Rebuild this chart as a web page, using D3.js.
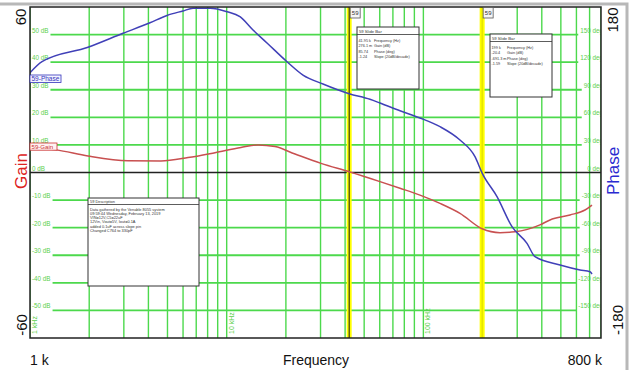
<!DOCTYPE html>
<html>
<head>
<meta charset="utf-8">
<script src="https://cdn.jsdelivr.net/npm/d3@7/dist/d3.min.js"></script>
<style>
  html, body { margin: 0; padding: 0; background: #fff; }
  svg { display: block; font-family: "Liberation Sans", Arial, sans-serif; }
</style>
</head>
<body>
<svg id="chart" width="634" height="370"></svg>
<script>
// Loop gain / phase measurement, trace 59
const gainFreq = [1000, 1356, 1972, 3150, 4634, 6359, 8721, 11820, 14430, 17610, 22250, 30170,
  41950, 60180, 76050, 96100, 121500, 153500, 199000, 245200, 292300, 391600, 440400, 556600, 663300, 720000];
const gainDb = [9.2, 8.2, 6.0, 4.3, 4.2, 5.4, 7.2, 9.1, 10.0, 9.4, 6.7, 3.3,
  0.2761, -3.3, -5.7, -8.2, -11.2, -14.8, -20.4, -21.8, -21.5, -19.0, -17.2, -15.4, -13.6, -11.8];

const phaseFreq = [1000, 1151, 1972, 2971, 4075, 4972, 5997, 6742, 8227, 10040, 11680, 13610, 16030,
  20260, 24430, 30870, 41950, 53500, 60180, 76050, 96100, 121500, 153500, 183000, 199000, 236800,
  282200, 336400, 369400, 495100, 625800, 703500, 720000];
const phaseDeg = [108.5, 120.5, 136.2, 151.4, 162.9, 170.8, 175.7, 178.6, 178.6, 174.9, 169.5, 155.0, 140.9,
  120.5, 106.0, 96.3, 85.74, 79.6, 75.6, 67.2, 59.3, 49.8, 35.3, 17.2, -0.6913, -26.3,
  -58.9, -77.0, -91.6, -100.6, -106.0, -107.9, -110.4];

// Cursor read-outs (slide bars)
const cursorFreq = [41950, 199000];
const cursorFreqText = ["41.95 k", "199 k"];
const cursorGainText = ["276.1 m", "-20.4"];
const cursorPhaseText = ["85.74", "-691.3 m"];
const cursorSlopeText = ["-1.24", "-1.59"];
const readoutNames = ["Frequency (Hz)", "Gain (dB)", "Phase (deg)", "Slope (20dB/decade)"];

// Grid / tick labels
const dbLines = [50, 40, 30, 20, 10, 0, -10, -20, -30, -40, -50];
const degLabels = ["150 deg", "120 deg", "90 deg", "60 deg", "30 deg", "0 deg", "-30 deg", "-60 deg", "-90 deg", "-120 deg", "-150 deg"];
const decadeFreq = [1000, 10000, 100000];
const decadeText = ["1 kHz", "10 kHz", "100 kHz"];

const descriptionLines = [
  "Data gathered by the Venable 8055 system",
  "09:59:44 Wednesday, February 13, 2019",
  "VIN=12V,C5=22uF",
  "12Vin, Vout=5V, Iout=0.1A",
  "added 0.1uF across slope pin",
  "Changed C764 to 330pF"
];

const svg = d3.select("#chart");
const L = 30, R = 601, T = 7, B = 338;

const x = d3.scaleLog().domain([1000, 800000]).range([L, R]);
const yG = d3.scaleLinear().domain([-60, 60]).range([B, T]);
const yP = d3.scaleLinear().domain([-180, 180]).range([B, T]);

const GRID = "#4cd94c", GRIDTXT = "#5ccf4c";

// outer frame
svg.append("rect").attr("width", 634).attr("height", 370).attr("fill", "#fff");
svg.append("path").attr("d", `M0,4H627V370`).attr("fill", "none").attr("stroke", "#b8b8b8").attr("stroke-width", 3);

svg.append("clipPath").attr("id", "plotclip").append("rect")
  .attr("x", L).attr("y", T).attr("width", R - L).attr("height", B - T);
const plot = svg.append("g").attr("clip-path", "url(#plotclip)");

// vertical grid
plot.append("g").selectAll("line").data(x.ticks()).join("line")
  .attr("x1", d => x(d)).attr("x2", d => x(d)).attr("y1", T).attr("y2", B)
  .attr("stroke", GRID).attr("stroke-width", 1.4);

// horizontal grid with left dB and right deg labels
const hg = plot.append("g");
dbLines.forEach((db, i) => {
  const yy = yG(db);
  const lt = hg.append("text").attr("x", L + 2).attr("y", yy - 2)
    .attr("font-size", 6.3).attr("fill", GRIDTXT).text(db + " dB");
  const rt = hg.append("text").attr("x", R + 2).attr("y", yy - 2).attr("text-anchor", "end")
    .attr("font-size", 6.3).attr("fill", GRIDTXT).text(degLabels[i]);
  if (db === 0) {
    hg.append("line").attr("x1", L).attr("x2", R).attr("y1", yy).attr("y2", yy)
      .attr("stroke", "#222").attr("stroke-width", 1.3);
  } else {
    const lw = lt.node().getComputedTextLength();
    const rw = rt.node().getComputedTextLength();
    hg.insert("line", "text").attr("x1", L + 2 + lw + 2).attr("x2", R + 2 - rw - 2)
      .attr("y1", yy).attr("y2", yy).attr("stroke", GRID).attr("stroke-width", 1.8);
  }
});

// decade labels along the bottom
plot.append("g").selectAll("text").data(decadeFreq).join("text")
  .attr("transform", d => `translate(${x(d) + 7},334) rotate(-90)`)
  .attr("font-size", 7).attr("fill", GRIDTXT)
  .text((d, i) => decadeText[i]);

// cursor bars
cursorFreq.forEach((f, i) => {
  const cx = x(f);
  plot.append("rect").attr("x", cx - 2.5).attr("y", T).attr("width", 5).attr("height", B - T)
    .attr("fill", "#ffff00");
  plot.append("line").attr("x1", cx).attr("x2", cx).attr("y1", T).attr("y2", B)
    .attr("stroke", i === 0 ? "#111" : "#d8d800").attr("stroke-width", 1);
});

// traces
const gainLine = d3.line().x(d => x(d[0])).y(d => yG(d[1])).curve(d3.curveMonotoneX);
const phaseLine = d3.line().x(d => x(d[0])).y(d => yP(d[1])).curve(d3.curveMonotoneX);
plot.append("path").datum(d3.zip(gainFreq, gainDb)).attr("d", gainLine)
  .attr("fill", "none").attr("stroke", "#c85050").attr("stroke-width", 1.5);
plot.append("path").datum(d3.zip(phaseFreq, phaseDeg)).attr("d", phaseLine)
  .attr("fill", "none").attr("stroke", "#4040b8").attr("stroke-width", 1.5);

// plot border
svg.append("rect").attr("x", L).attr("y", T).attr("width", R - L).attr("height", B - T)
  .attr("fill", "none").attr("stroke", "#222").attr("stroke-width", 1.5);

// trace tags
function tag(xx, yy, w, h, txt, col, bg, fs) {
  svg.append("rect").attr("x", xx).attr("y", yy).attr("width", w).attr("height", h)
    .attr("fill", bg).attr("stroke", col).attr("stroke-width", 0.8);
  svg.append("text").attr("x", xx + 1.5).attr("y", yy + h - 1.6).attr("font-size", fs)
    .attr("fill", col).text(txt);
}
tag(L, 75, 31, 7.5, "59-Phase", "#3333bb", "#f4f4ff", 6.5);
tag(L, 143, 27, 7.2, "59-Gain", "#cc3333", "#fff2f2", 6.1);

// cursor number flags
cursorFreq.forEach(f => {
  const cx = x(f);
  svg.append("rect").attr("x", cx + 1).attr("y", T + 0.5).attr("width", 10).attr("height", 10.5)
    .attr("fill", "#f6f6f6").attr("stroke", "#555").attr("stroke-width", 0.8);
  svg.append("text").attr("x", cx + 6).attr("y", T + 8.3).attr("text-anchor", "middle")
    .attr("font-size", 6).attr("fill", "#333").text("59");
});

// slide-bar read-out boxes
const boxes = [{ x: 357, y: 27, w: 62, h: 62 }, { x: 490, y: 34, w: 62, h: 63 }];
boxes.forEach((b, i) => {
  const g = svg.append("g");
  g.append("rect").attr("x", b.x).attr("y", b.y).attr("width", b.w).attr("height", b.h)
    .attr("fill", "#fff").attr("stroke", "#333").attr("stroke-width", 1);
  g.append("line").attr("x1", b.x).attr("x2", b.x + b.w).attr("y1", b.y + 7.5).attr("y2", b.y + 7.5)
    .attr("stroke", "#333").attr("stroke-width", 0.8);
  g.append("text").attr("x", b.x + 2).attr("y", b.y + 5.6).attr("font-size", 4.2).attr("fill", "#333")
    .text("59  Slide Bar");
  const vals = [cursorFreqText[i], cursorGainText[i], cursorPhaseText[i], cursorSlopeText[i]];
  vals.forEach((v, k) => {
    const yy = b.y + 14.5 + k * 5.6;
    g.append("text").attr("x", b.x + 1.5).attr("y", yy).attr("font-size", 3.8).attr("fill", "#333").text(v);
    g.append("text").attr("x", b.x + 17).attr("y", yy).attr("font-size", 3.8).attr("fill", "#333").text(readoutNames[k]);
  });
});

// description box
{
  const b = { x: 88, y: 198, w: 111, h: 88 };
  const g = svg.append("g");
  g.append("rect").attr("x", b.x).attr("y", b.y).attr("width", b.w).attr("height", b.h)
    .attr("fill", "#fff").attr("stroke", "#333").attr("stroke-width", 1);
  g.append("line").attr("x1", b.x).attr("x2", b.x + b.w).attr("y1", b.y + 6.5).attr("y2", b.y + 6.5)
    .attr("stroke", "#333").attr("stroke-width", 0.8);
  g.append("text").attr("x", b.x + 2).attr("y", b.y + 4.8).attr("font-size", 3.9).attr("fill", "#333")
    .text("59  Description");
  descriptionLines.forEach((t, k) => {
    g.append("text").attr("x", b.x + 2).attr("y", b.y + 12.8 + k * 4.2).attr("font-size", 3.9)
      .attr("fill", "#333").text(t);
  });
}

// axis titles and range labels
function vtext(cx, cy, txt, size, col) {
  svg.append("text").attr("transform", `translate(${cx},${cy}) rotate(-90)`)
    .attr("text-anchor", "middle").attr("dominant-baseline", "central")
    .attr("font-size", size).attr("fill", col).text(txt);
}
vtext(20, 17, "60", 15, "#111");
vtext(21, 325, "-60", 15, "#111");
vtext(21, 171, "Gain", 17, "#dd2222");
vtext(612, 20, "180", 15, "#111");
vtext(617, 320, "-180", 15, "#111");
vtext(613, 171, "Phase", 17, "#2a2ad0");

svg.append("text").attr("x", 30).attr("y", 365).attr("font-size", 14).attr("fill", "#111").text("1 k");
svg.append("text").attr("x", 316).attr("y", 365).attr("text-anchor", "middle").attr("font-size", 14)
  .attr("fill", "#111").text("Frequency");
svg.append("text").attr("x", 602).attr("y", 365).attr("text-anchor", "end").attr("font-size", 14)
  .attr("fill", "#111").text("800 k");
</script>
</body>
</html>
